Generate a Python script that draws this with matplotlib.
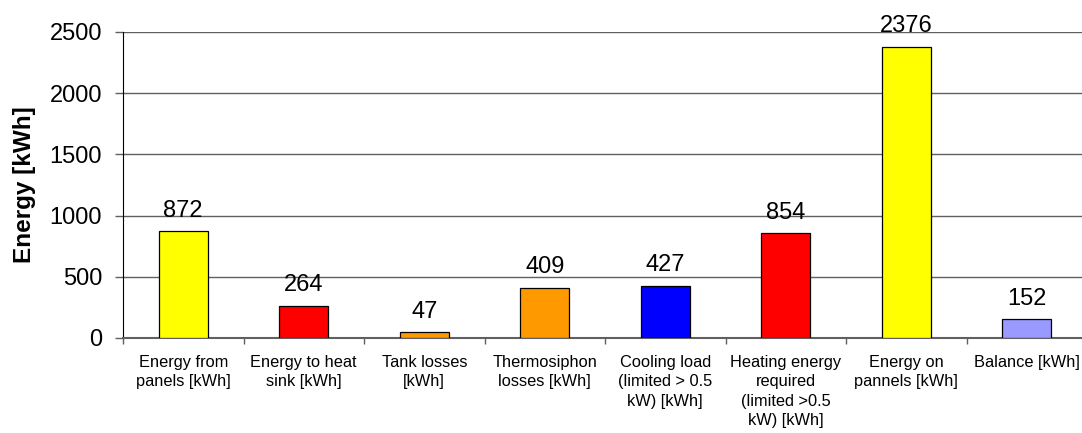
import matplotlib
matplotlib.use("Agg")
from matplotlib import pyplot as plt
import numpy as np

categories = [
    "Energy from\npanels [kWh]",
    "Energy to heat\nsink [kWh]",
    "Tank losses\n[kWh]",
    "Thermosiphon\nlosses [kWh]",
    "Cooling load\n(limited > 0.5\nkW) [kWh]",
    "Heating energy\nrequired\n(limited >0.5\nkW) [kWh]",
    "Energy on\npannels [kWh]",
    "Balance [kWh]",
]
values = [872, 264, 47, 409, 427, 854, 2376, 152]
colors = ["#FFFF00", "#FF0000", "#FF9900", "#FF9900",
          "#0000FF", "#FF0000", "#FFFF00", "#9999FF"]

plt.rcParams['font.family'] = ['Liberation Sans', 'DejaVu Sans']

fig = plt.figure(dpi=100, figsize=(10.82, 4.33))
ax = fig.add_axes([123 / 1082, 95 / 433, 964 / 1082, 306 / 433])

x = np.arange(len(values))
ax.bar(x, values, width=0.41, color=colors, edgecolor='black', linewidth=0.9, zorder=3)

# value labels above bars
for xi, v in zip(x, values):
    ax.annotate(str(v), (xi, v), xytext=(0, 7), textcoords='offset points',
                ha='center', va='bottom', fontsize=17, annotation_clip=False)

ax.set_xlim(-0.5, 7.5)
ax.set_ylim(0, 2500)
ax.set_yticks(range(0, 2501, 500))
ax.yaxis.grid(True, color='#606060', linewidth=1.0, zorder=0)
ax.tick_params(axis='y', labelsize=17, length=6, width=1, pad=9, color='#606060')

ax.set_xticks(x)
ax.set_xticklabels(categories, fontsize=11.8, linespacing=1.38)
ax.set_xticks(np.arange(-0.5, 8, 1), minor=True)
ax.tick_params(axis='x', which='major', length=0, pad=12)
ax.tick_params(axis='x', which='minor', length=4, width=1, color='#606060')

for s in ['top', 'right']:
    ax.spines[s].set_visible(False)
ax.spines['left'].set_color('black')
ax.spines['bottom'].set_color('#606060')
ax.spines['bottom'].set_linewidth(1.5)

ax.set_ylabel("Energy [kWh]", fontsize=17.5, fontweight='bold', labelpad=10)

fig.savefig("out.png", dpi=100)
